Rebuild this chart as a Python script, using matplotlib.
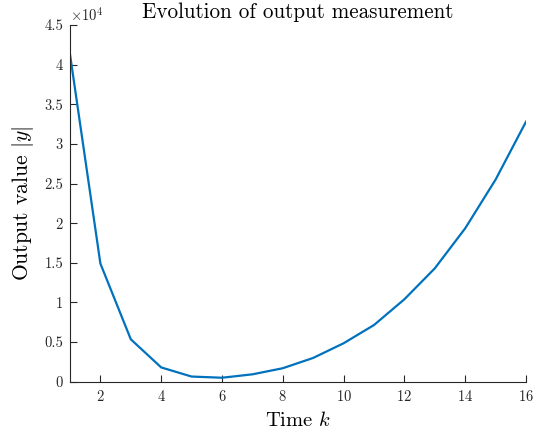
import matplotlib
matplotlib.use("Agg")
import matplotlib.pyplot as plt

plt.rcParams["font.family"] = "serif"
plt.rcParams["font.serif"] = ["cmr10"]
plt.rcParams["mathtext.fontset"] = "cm"
plt.rcParams["axes.formatter.use_mathtext"] = True

# Output magnitude |y| over time steps k
k = [1, 2, 3, 4, 5, 6, 7, 8, 9, 10, 11, 12, 13, 14, 15, 16]
y = [41300, 14900, 5350, 1800, 650, 500, 930, 1700, 3000, 4850,
     7150, 10400, 14300, 19350, 25500, 32800]

xticks = [2, 4, 6, 8, 10, 12, 14, 16]
yticks = [0, 0.5, 1, 1.5, 2, 2.5, 3, 3.5, 4, 4.5]
ytick_labels = ["0", "0.5", "1", "1.5", "2", "2.5", "3", "3.5", "4", "4.5"]

fig = plt.figure(figsize=(5.41, 4.36), dpi=100)
ax = fig.add_axes([70 / 541, 1 - 381.7 / 436, (526 - 70) / 541, (381.7 - 25) / 436])

ax.plot(k, y, color="#0072BD", lw=1.6)

ax.set_xlim(1, 16)
ax.set_ylim(0, 45000)
ax.set_xticks(xticks)
ax.set_yticks([v * 1e4 for v in yticks])
ax.set_yticklabels(ytick_labels)

for side in ("top", "right"):
    ax.spines[side].set_visible(False)
for side in ("left", "bottom"):
    ax.spines[side].set_color("#262626")
    ax.spines[side].set_linewidth(0.8)
ax.tick_params(direction="in", length=5, width=0.8, colors="#262626",
               labelsize=10.5, pad=5)

ax.text(0.0, 1.005, r"$\times 10^4$", transform=ax.transAxes,
        fontsize=10.5, color="#262626", ha="left", va="bottom")

ax.set_title("Evolution of output measurement", fontsize=15.2, color="black", pad=5)
ax.set_xlabel(r"Time $k$", fontsize=14.8, labelpad=5)
ax.set_ylabel(r"Output value $|y|$", fontsize=15.5, labelpad=6)

fig.savefig("out.png", dpi=100)
